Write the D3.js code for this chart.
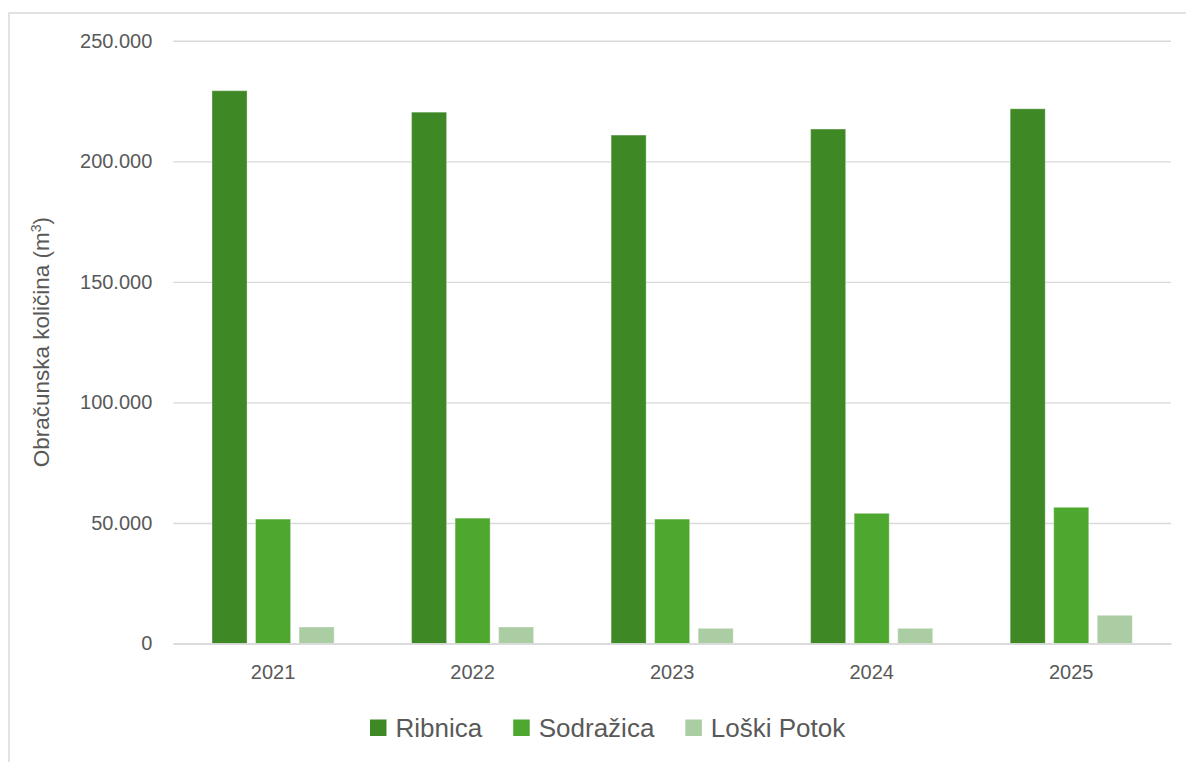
<!DOCTYPE html>
<html>
<head>
<meta charset="utf-8">
<script src="https://cdn.jsdelivr.net/npm/d3@7"></script>
<style>
	body { margin: 0; background: #fff; }
	text { font-family: "Liberation Sans", Arial, sans-serif; fill: #595959; }
	.grid .domain { display: none; }
	.grid line { stroke: #d9d9d9; stroke-width: 1.4; }
	.xaxis .domain { stroke: #d9d9d9; stroke-width: 1.4; }
</style>
</head>
<body>
<div class="chart"></div>
<script>
// data
var years = ['2021', '2022', '2023', '2024', '2025'];
var seriesNames = ['Ribnica', 'Sodražica', 'Loški Potok'];
var ribnica = [229300, 220400, 210900, 213400, 221800];
var sodrazica = [51600, 52000, 51600, 54000, 56500];
var loskiPotok = [6850, 6850, 6300, 6300, 11700];
var yTicks = [0, 50000, 100000, 150000, 200000, 250000];
var colors = ['#3f8826', '#4ea72e', '#abcda3'];

var seriesValues = [ribnica, sodrazica, loskiPotok];

var fullWidth = 1186, fullHeight = 762;
var margin = {top: 40.8, right: 15, bottom: 118.5, left: 173.3};
var width = fullWidth - margin.left - margin.right;
var height = fullHeight - margin.top - margin.bottom;

var root = d3.select('.chart')
	.append('svg')
	.attr('width', fullWidth)
	.attr('height', fullHeight);

// chart border (only top/left visible in the crop)
root.append('rect')
	.attr('x', 9)
	.attr('y', 13)
	.attr('width', fullWidth + 20)
	.attr('height', fullHeight + 20)
	.style('fill', 'none')
	.style('stroke', '#d9d9d9')
	.style('stroke-width', 1.5);

var svg = root.append('g')
	.attr('transform', 'translate(' + margin.left + ', ' + margin.top + ')');

var x0 = d3.scaleBand()
	.domain(years)
	.range([0, width])
	.paddingInner(0.388)
	.paddingOuter(0.194);

var x1 = d3.scaleBand()
	.domain(seriesNames)
	.range([0, x0.bandwidth()])
	.paddingInner(0.195);

var yScale = d3.scaleLinear()
	.domain([0, 250000])
	.range([height, 0]);

var fmt = function (d) {
	return d3.format(',')(d).replace(/,/g, '.');
};

var yAxis = d3.axisLeft(yScale)
	.tickValues(yTicks)
	.tickSize(-width)
	.tickPadding(21)
	.tickFormat(fmt);

svg.append('g')
	.attr('class', 'grid')
	.call(yAxis)
	.selectAll('text')
	.style('font-size', '20px')
	.style('fill', '#595959');

svg.selectAll('.grid .tick line')
	.attr('stroke', '#d9d9d9');

// bars
var groups = svg.selectAll('.year')
	.data(years)
	.enter()
	.append('g')
	.attr('class', 'year')
	.attr('transform', function (d) { return 'translate(' + x0(d) + ',0)'; });

groups.selectAll('rect')
	.data(function (d, i) {
		return seriesNames.map(function (s, j) {
			return {name: s, value: seriesValues[j][i], idx: j};
		});
	})
	.enter()
	.append('rect')
	.attr('x', function (d) { return x1(d.name); })
	.attr('y', function (d) { return yScale(d.value); })
	.attr('width', x1.bandwidth())
	.attr('height', function (d) { return height - yScale(d.value); })
	.style('fill', function (d) { return colors[d.idx]; })
	.style('stroke', 'rgba(255,255,255,0.35)')
	.style('stroke-width', 1);

var xAxis = d3.axisBottom(x0)
	.tickSize(0)
	.tickPadding(21);

svg.append('g')
	.attr('class', 'xaxis')
	.attr('transform', 'translate(0, ' + height + ')')
	.call(xAxis)
	.selectAll('text')
	.style('font-size', '20px')
	.style('fill', '#595959');

svg.select('.xaxis .domain').attr('stroke', '#d9d9d9');

// y axis title
var title = root.append('text')
	.attr('transform', 'translate(49, ' + (margin.top + height / 2) + ') rotate(-90)')
	.attr('text-anchor', 'middle')
	.style('font-size', '22.5px');
title.append('tspan').text('Obračunska količina (m');
title.append('tspan').text('3').attr('baseline-shift', 'super').style('font-size', '14px');
title.append('tspan').text(')');

// legend
var legend = root.append('g')
	.attr('transform', 'translate(370, 728)');
var lx = 0;
seriesNames.forEach(function (s, i) {
	var item = legend.append('g').attr('transform', 'translate(' + lx + ',0)');
	item.append('rect')
		.attr('x', 0)
		.attr('y', -8.5)
		.attr('width', 16.5)
		.attr('height', 16.5)
		.style('fill', colors[i]);
	var t = item.append('text')
		.attr('x', 25.5)
		.attr('dy', '0.36em')
		.style('font-size', '26px')
		.text(s);
	lx += 25.5 + t.node().getComputedTextLength() + 31;
});
</script>
</body>
</html>
